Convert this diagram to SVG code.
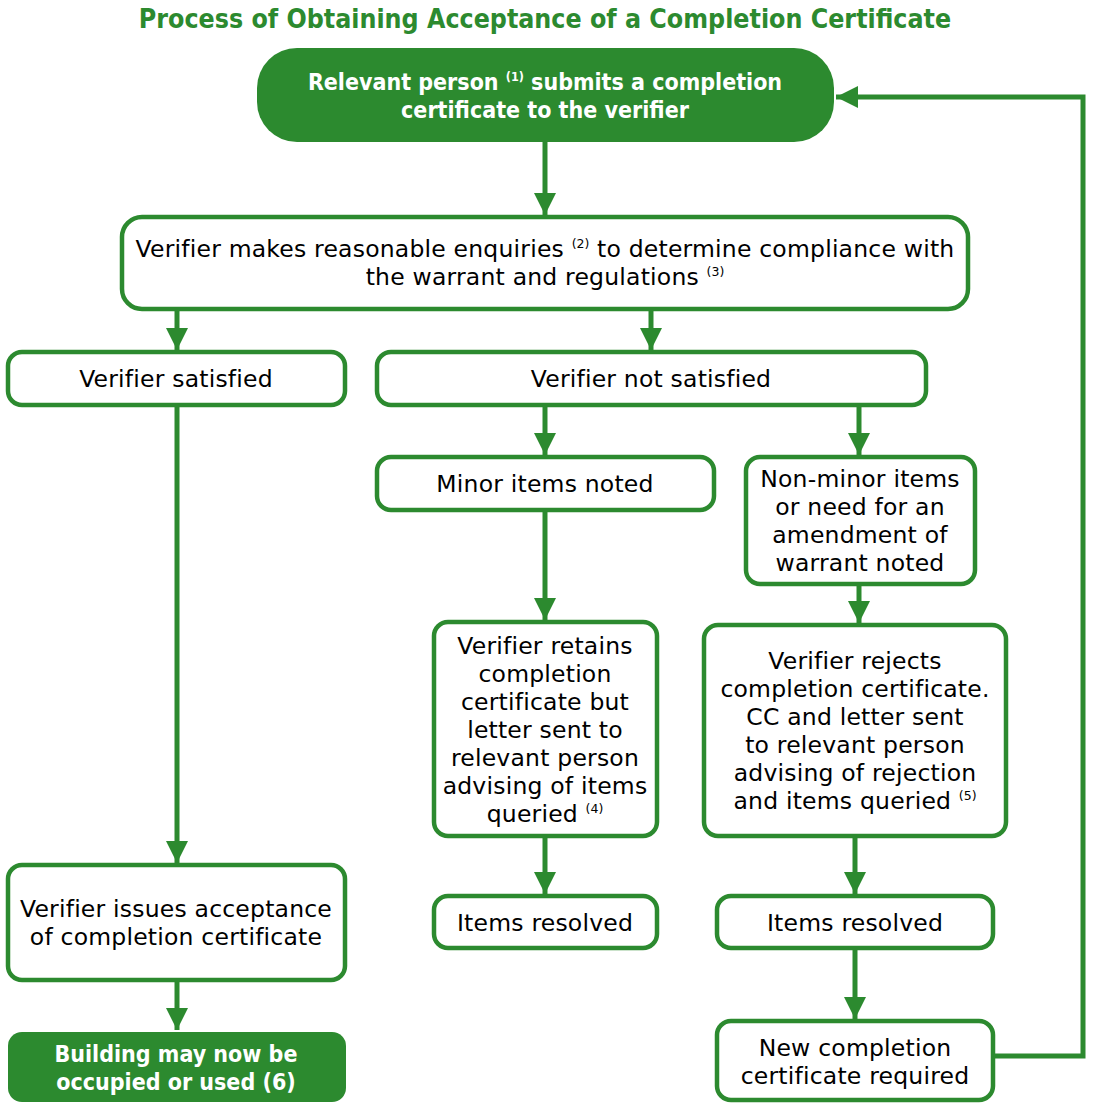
<svg xmlns="http://www.w3.org/2000/svg" width="1097" height="1110" viewBox="0 0 1097 1110">
<style>
.box{fill:#fff;stroke:#2c8a2f;stroke-width:4.5}
.fill{fill:#2c8a2f;stroke:none}
.t{font-family:"DejaVu Sans",sans-serif;font-size:23.5px;letter-spacing:0.2px;fill:#000;text-anchor:middle}
.w{font-family:"DejaVu Sans Condensed","DejaVu Sans",sans-serif;font-size:23px;font-weight:bold;fill:#fff;text-anchor:middle}
.sup{font-size:12.5px;letter-spacing:0}
.title{font-family:"DejaVu Sans Condensed","DejaVu Sans",sans-serif;font-size:26.5px;font-weight:bold;fill:#2c8a2f;text-anchor:middle}
.c{fill:none;stroke:#2c8a2f;stroke-width:5}
</style>
<defs>
<marker id="ah" markerWidth="4.4" markerHeight="4.4" refX="4.4" refY="2.2" orient="auto" markerUnits="strokeWidth">
<path d="M0,0 L4.4,2.2 L0,4.4 Z" fill="#2c8a2f"/>
</marker>
</defs>
<text class="title" x="545" y="28">Process of Obtaining Acceptance of a Completion Certificate</text>

<g id="connectors">
<line class="c" x1="545" y1="142" x2="545" y2="215" marker-end="url(#ah)"/>
<line class="c" x1="177" y1="309" x2="177" y2="350" marker-end="url(#ah)"/>
<line class="c" x1="651" y1="309" x2="651" y2="350" marker-end="url(#ah)"/>
<line class="c" x1="177" y1="405" x2="177" y2="863" marker-end="url(#ah)"/>
<line class="c" x1="545" y1="405" x2="545" y2="455" marker-end="url(#ah)"/>
<line class="c" x1="859" y1="405" x2="859" y2="455" marker-end="url(#ah)"/>
<line class="c" x1="545" y1="510" x2="545" y2="620" marker-end="url(#ah)"/>
<line class="c" x1="859" y1="584" x2="859" y2="623" marker-end="url(#ah)"/>
<line class="c" x1="545" y1="836" x2="545" y2="894" marker-end="url(#ah)"/>
<line class="c" x1="855" y1="836" x2="855" y2="894" marker-end="url(#ah)"/>
<line class="c" x1="855" y1="948" x2="855" y2="1019" marker-end="url(#ah)"/>
<line class="c" x1="177" y1="980" x2="177" y2="1030" marker-end="url(#ah)"/>
<polyline class="c" points="993,1056 1083,1056 1083,97 836,97" marker-end="url(#ah)"/>
</g>

<g id="n-submit">
<rect class="fill" x="257" y="48" width="577" height="94" rx="40"/>
<text class="w" x="545" y="90">Relevant person <tspan class="sup" dy="-9">(1)</tspan><tspan dy="9"> submits a completion</tspan></text>
<text class="w" x="545" y="118">certificate to the verifier</text>
</g>
<g id="n-enquiries">
<rect class="box" x="122" y="217" width="846" height="92" rx="20"/>
<text class="t" x="545" y="257">Verifier makes reasonable enquiries <tspan class="sup" dy="-9">(2)</tspan><tspan dy="9"> to determine compliance with</tspan></text>
<text class="t" x="545" y="285">the warrant and regulations <tspan class="sup" dy="-9">(3)</tspan></text>
</g>
<g id="n-satisfied">
<rect class="box" x="8" y="352" width="337" height="53" rx="14"/>
<text class="t" x="176" y="387">Verifier satisfied</text>
</g>
<g id="n-notsatisfied">
<rect class="box" x="377" y="352" width="549" height="53" rx="14"/>
<text class="t" x="651" y="387">Verifier not satisfied</text>
</g>
<g id="n-minor">
<rect class="box" x="377" y="457" width="337" height="53" rx="14"/>
<text class="t" x="545" y="492">Minor items noted</text>
</g>
<g id="n-nonminor">
<rect class="box" x="746" y="457" width="229" height="127" rx="14"/>
<text class="t" x="860" y="487">Non-minor items</text>
<text class="t" x="860" y="515">or need for an</text>
<text class="t" x="860" y="543">amendment of</text>
<text class="t" x="860" y="571">warrant noted</text>
</g>
<g id="n-retains">
<rect class="box" x="434" y="622" width="223" height="214" rx="14"/>
<text class="t" x="545" y="654">Verifier retains</text>
<text class="t" x="545" y="682">completion</text>
<text class="t" x="545" y="710">certificate but</text>
<text class="t" x="545" y="738">letter sent to</text>
<text class="t" x="545" y="766">relevant person</text>
<text class="t" x="545" y="794">advising of items</text>
<text class="t" x="545" y="822">queried <tspan class="sup" dy="-9">(4)</tspan></text>
</g>
<g id="n-rejects">
<rect class="box" x="704" y="625" width="302" height="211" rx="14"/>
<text class="t" x="855" y="669">Verifier rejects</text>
<text class="t" x="855" y="697">completion certificate.</text>
<text class="t" x="855" y="725">CC and letter sent</text>
<text class="t" x="855" y="753">to relevant person</text>
<text class="t" x="855" y="781">advising of rejection</text>
<text class="t" x="855" y="809">and items queried <tspan class="sup" dy="-9">(5)</tspan></text>
</g>
<g id="n-resolved1">
<rect class="box" x="434" y="896" width="223" height="52" rx="14"/>
<text class="t" x="545" y="931">Items resolved</text>
</g>
<g id="n-resolved2">
<rect class="box" x="717" y="896" width="276" height="52" rx="14"/>
<text class="t" x="855" y="931">Items resolved</text>
</g>
<g id="n-accept">
<rect class="box" x="8" y="865" width="337" height="115" rx="14"/>
<text class="t" x="176" y="917">Verifier issues acceptance</text>
<text class="t" x="176" y="945">of completion certificate</text>
</g>
<g id="n-building">
<rect class="fill" x="8" y="1032" width="338" height="70" rx="14"/>
<text class="w" x="176" y="1062">Building may now be</text>
<text class="w" x="176" y="1090">occupied or used (6)</text>
</g>
<g id="n-new">
<rect class="box" x="717" y="1021" width="276" height="79" rx="14"/>
<text class="t" x="855" y="1056">New completion</text>
<text class="t" x="855" y="1084">certificate required</text>
</g>
</svg>
